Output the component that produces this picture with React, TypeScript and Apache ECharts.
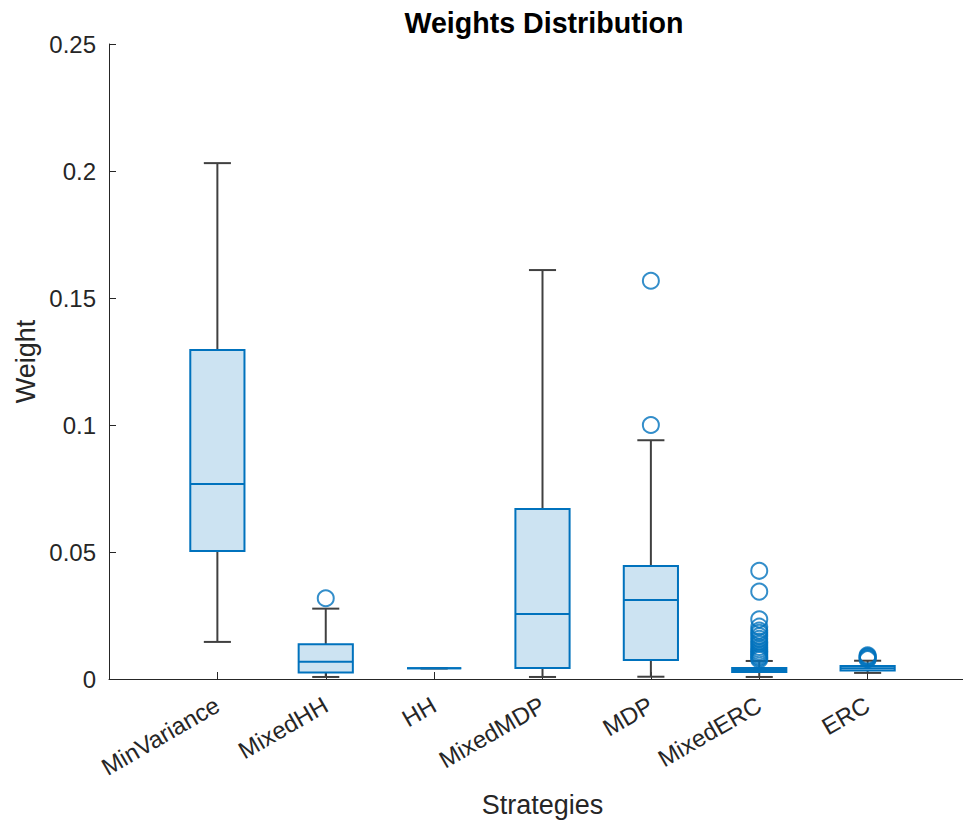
import React, { useEffect, useRef } from "react";
import * as echarts from "echarts";

const categories = ["MinVariance", "MixedHH", "HH", "MixedMDP", "MDP", "MixedERC", "ERC"];
const lowerWhisker = [0.0146, 0.0008, 0.0042, 0.0008, 0.0009, 0.0008, 0.0024];
const q1 = [0.0504, 0.0026, 0.0042, 0.0043, 0.0075, 0.0028, 0.0033];
const median = [0.0768, 0.0068, 0.0042, 0.0256, 0.0311, 0.0035, 0.0042];
const q3 = [0.1295, 0.0137, 0.0042, 0.0669, 0.0445, 0.0043, 0.0051];
const upperWhisker = [0.2031, 0.0277, 0.0042, 0.161, 0.094, 0.0071, 0.0072];

const outliersMixedHH = [0.0318];
const outliersMDP = [0.1568, 0.1];
const outliersMixedERC = [
  0.0426, 0.0344, 0.0235, 0.0206, 0.0191, 0.0182, 0.0169, 0.0158, 0.0147, 0.0138,
  0.0126, 0.0117, 0.0109, 0.0102, 0.0095, 0.0088, 0.0083, 0.0077,
];
const outliersERC = [0.0093, 0.0089, 0.0086, 0.0081, 0.0078];

const yTicks = [0, 0.05, 0.1, 0.15, 0.2, 0.25];

const FONT = "'Liberation Sans', Arial, Helvetica, sans-serif";
const BLUE = "#0072BD";
const DARK = "#262626";

export default function App() {
  const ref = useRef<HTMLDivElement>(null);

  useEffect(() => {
    document.body.style.margin = "0";
    const chart = echarts.init(ref.current!, null, { renderer: "svg" });

    const boxData = categories.map((_, i) => [
      i + 1,
      lowerWhisker[i],
      q1[i],
      median[i],
      q3[i],
      upperWhisker[i],
    ]);

    const outlierData: number[][] = [];
    outliersMixedHH.forEach((v) => outlierData.push([2, v]));
    outliersMDP.forEach((v) => outlierData.push([5, v]));
    outliersMixedERC.forEach((v) => outlierData.push([6, v]));
    outliersERC.forEach((v) => outlierData.push([7, v]));

    const option: any = {
      animation: false,
      title: {
        text: "Weights Distribution",
        left: 539,
        top: 3,
        textAlign: "center",
        textStyle: { fontFamily: FONT, fontSize: 28.6, fontWeight: "bold", color: "#000" },
      },
      grid: {
        left: 109,
        top: 44,
        width: 867,
        height: 635,
        containLabel: false,
        outerBoundsMode: "none",
      },
      xAxis: {
        type: "value",
        min: 0,
        max: 8,
        interval: 1,
        name: "Strategies",
        nameLocation: "middle",
        nameGap: 112,
        nameMoveOverlap: false,
        nameTextStyle: { fontFamily: FONT, fontSize: 27, color: DARK },
        axisLine: { show: true, lineStyle: { color: DARK, width: 1 } },
        axisTick: { show: true, inside: true, length: 7, lineStyle: { color: DARK } },
        splitLine: { show: false },
        axisLabel: {
          rotate: 30,
          margin: 24,
          fontFamily: FONT,
          fontSize: 24,
          color: DARK,
          hideOverlap: false,
          formatter: (v: number) => {
            const i = Math.round(v) - 1;
            return i >= 0 && i < categories.length ? categories[i] : "";
          },
        },
      },
      yAxis: {
        type: "value",
        min: 0,
        max: 0.25,
        interval: 0.05,
        name: "Weight",
        nameLocation: "middle",
        nameGap: 70,
        nameRotate: 90,
        nameMoveOverlap: false,
        nameTextStyle: { fontFamily: FONT, fontSize: 27, color: DARK },
        axisLine: { show: true, lineStyle: { color: DARK, width: 1 } },
        axisTick: { show: true, inside: true, length: 7, lineStyle: { color: DARK } },
        splitLine: { show: false },
        axisLabel: {
          margin: 13,
          fontFamily: FONT,
          fontSize: 24,
          color: DARK,
          formatter: (v: number) => {
            const t = yTicks.find((k) => Math.abs(k - v) < 1e-9);
            return t === undefined ? "" : String(+t.toFixed(2));
          },
        },
      },
      series: [
        {
          type: "custom",
          data: boxData,
          encode: { x: 0, y: [1, 2, 3, 4, 5] },
          renderItem: (params: any, api: any) => {
            const x = api.value(0);
            const lw = api.coord([x, api.value(1)]);
            const pq1 = api.coord([x, api.value(2)]);
            const pmed = api.coord([x, api.value(3)]);
            const pq3 = api.coord([x, api.value(4)]);
            const uw = api.coord([x, api.value(5)]);
            const cx = lw[0];
            const halfW = api.coord([x + 0.25, 0])[0] - cx;
            const capHalf = halfW / 2;
            const wStyle = { stroke: "#404040", lineWidth: 2 };
            return {
              type: "group",
              children: [
                { type: "line", shape: { x1: cx, y1: pq3[1], x2: cx, y2: uw[1] }, style: wStyle },
                { type: "line", shape: { x1: cx, y1: pq1[1], x2: cx, y2: lw[1] }, style: wStyle },
                { type: "line", shape: { x1: cx - capHalf, y1: uw[1], x2: cx + capHalf, y2: uw[1] }, style: wStyle },
                { type: "line", shape: { x1: cx - capHalf, y1: lw[1], x2: cx + capHalf, y2: lw[1] }, style: wStyle },
                {
                  type: "rect",
                  shape: { x: cx - halfW, y: pq3[1], width: 2 * halfW, height: pq1[1] - pq3[1] },
                  style: { fill: "rgba(0,114,189,0.2)", stroke: BLUE, lineWidth: 2 },
                },
                {
                  type: "line",
                  shape: { x1: cx - halfW, y1: pmed[1], x2: cx + halfW, y2: pmed[1] },
                  style: { stroke: BLUE, lineWidth: 2 },
                },
              ],
            };
          },
          z: 2,
        },
        {
          type: "scatter",
          data: outlierData,
          symbol: "circle",
          symbolSize: 16,
          itemStyle: { color: "transparent", borderColor: BLUE, borderWidth: 2 },
          z: 3,
        },
      ],
    };

    chart.setOption(option);
    return () => chart.dispose();
  }, []);

  return <div ref={ref} style={{ width: 963, height: 823 }} />;
}
